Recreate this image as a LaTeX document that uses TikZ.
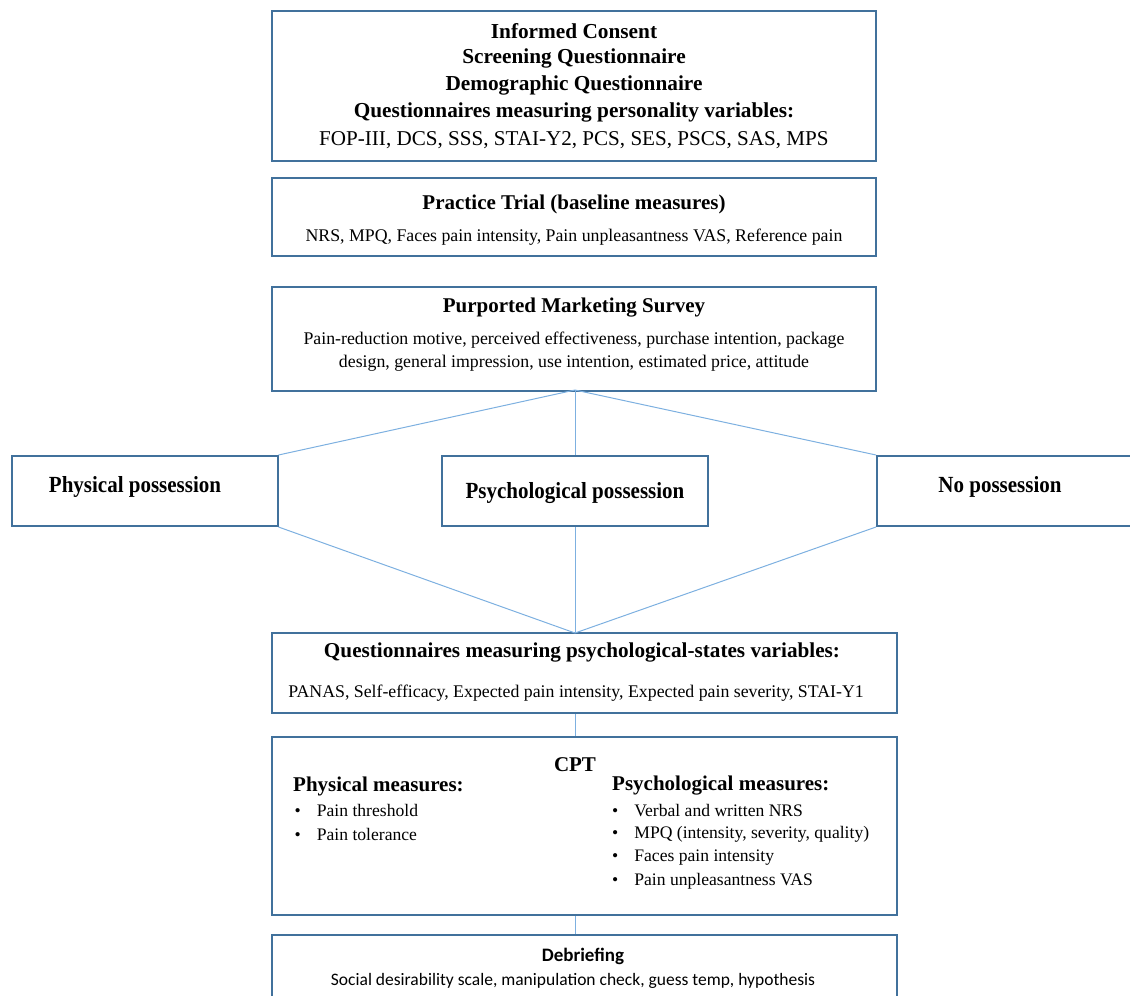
\documentclass[tikz,border=0pt]{standalone}
\usepackage{fontspec}
\setmainfont{Liberation Serif}
\newfontfamily\calibri{Carlito}
\definecolor{boxblue}{HTML}{41719C}
\definecolor{lineblue}{HTML}{7DB0E0}
\begin{document}
\begin{tikzpicture}[x=1pt,y=-1pt,
  box/.style={draw=boxblue,line width=2pt,inner sep=0pt},
  link/.style={draw=lineblue,line width=1pt},
  txt/.style={inner sep=0pt,anchor=center},
  big/.style={font=\fontsize{21.3}{25}\selectfont\bfseries},
  mid/.style={font=\fontsize{21}{25}\selectfont\bfseries},
  small/.style={font=\fontsize{17.8}{21}\selectfont},
  bul/.style={inner sep=0pt,anchor=west,font=\fontsize{17.6}{21}\selectfont}]
\useasboundingbox (0,0) rectangle (1130,996);
% boxes
\node[box,minimum width=604pt,minimum height=150pt] (consent) at (574,86) {};
\node[box,minimum width=604pt,minimum height=78pt] (practice) at (574,217) {};
\node[box,minimum width=604pt,minimum height=104pt] (survey) at (574,339) {};
\node[box,minimum width=266pt,minimum height=70pt] (physical) at (144.5,491) {};
\node[box,minimum width=266pt,minimum height=70pt] (psycho) at (575,491) {};
\node[box,minimum width=270pt,minimum height=70pt] (nopos) at (1012,491) {};
\node[box,minimum width=625pt,minimum height=80pt] (states) at (584.5,673) {};
\node[box,minimum width=625pt,minimum height=178pt] (cpt) at (584.5,826) {};
\node[box,minimum width=625pt,minimum height=80pt] (debrief) at (584.5,975) {};
% texts box 1
\node[txt,big] (t1) at (574,31.5) {Informed Consent};
\node[txt,big] (t2) at (574,58.5) {Screening Questionnaire};
\node[txt,big] (t3) at (574,85.5) {Demographic Questionnaire};
\node[txt,big] (t4) at (574,112.5) {Questionnaires measuring personality variables:};
\node[txt,font=\fontsize{21.1}{25}\selectfont] (t5) at (574,140) {FOP-III, DCS, SSS, STAI-Y2, PCS, SES, PSCS, SAS, MPS};
% practice
\node[txt,mid] (p1) at (574,204) {Practice Trial (baseline measures)};
\node[txt,small] (p2) at (574,237) {NRS, MPQ, Faces pain intensity, Pain unpleasantness VAS, Reference pain};
% survey
\node[txt,mid] (s1) at (574,308) {Purported Marketing Survey};
\node[txt,small] (s2) at (574,340.5) {Pain-reduction motive, perceived effectiveness, purchase intention, package};
\node[txt,small] (s3) at (574,363.5) {design, general impression, use intention, estimated price, attitude};
% possession
\node[txt,mid,yscale=1.1] (l1) at (135,487) {Physical possession};
\node[txt,mid,yscale=1.1] (l2) at (575,493) {Psychological possession};
\node[txt,mid,yscale=1.1] (l3) at (1000,487) {No possession};
% states
\node[txt,font=\fontsize{21.2}{25}\selectfont\bfseries] (q1) at (582,652.5) {Questionnaires measuring psychological-states variables:};
\node[txt,small] (q2) at (576,693.5) {PANAS, Self-efficacy, Expected pain intensity, Expected pain severity, STAI-Y1};
% CPT
\node[txt,mid] (c0) at (575,765) {CPT};
\node[txt,mid,anchor=west] (c1) at (293,786) {Physical measures:};
\node[txt,mid,anchor=west] (c2) at (612,786) {Psychological measures:};
\node[bul] (b1) at (294.5,810.5) {\textbullet\hspace{16pt}Pain threshold};
\node[bul] (b2) at (294.5,834) {\textbullet\hspace{16pt}Pain tolerance};
\node[bul] (b3) at (612,810.5) {\textbullet\hspace{16pt}Verbal and written NRS};
\node[bul] (b4) at (612,834) {\textbullet\hspace{16pt}MPQ (intensity, severity, quality)};
\node[bul] (b5) at (612,857.5) {\textbullet\hspace{16pt}Faces pain intensity};
\node[bul] (b6) at (612,881) {\textbullet\hspace{16pt}Pain unpleasantness VAS};
% debrief
\node[txt,font=\calibri\fontsize{19}{23}\selectfont\bfseries] (d1) at (583,956) {Debriefing};
\node[txt,font=\calibri\fontsize{17.5}{21}\selectfont] (d2) at (573,981) {Social desirability scale, manipulation check, guess temp, hypothesis};
% connectors
\coordinate (sb) at (575,390);
\coordinate (sm) at (575,633);
\draw[link] (sb) -- (physical.north east);
\draw[link] (sb) -- (psycho.north);
\draw[link] (sb) -- (nopos.north west);
\draw[link] (physical.south east) -- (sm);
\draw[link] (psycho.south) -- (sm);
\draw[link] (nopos.south west) -- (sm);
\draw[link] (states.south -| sm) -- (cpt.north -| sm);
\draw[link] (cpt.south -| sm) -- (debrief.north -| sm);
\end{tikzpicture}
\end{document}
